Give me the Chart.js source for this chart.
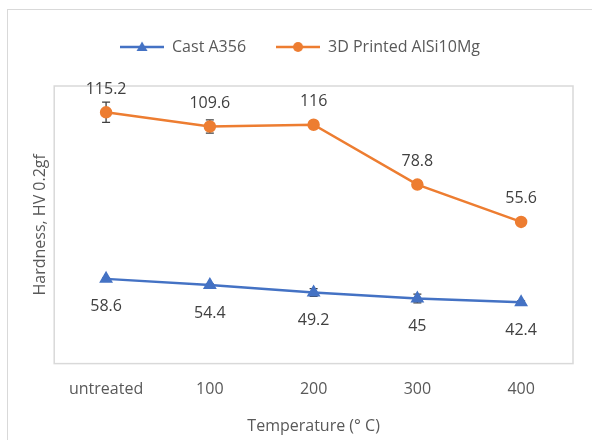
<!DOCTYPE html>
<html>
<head>
<meta charset="utf-8">
<script src="https://cdn.jsdelivr.net/npm/chart.js@4/dist/chart.umd.min.js"></script>
<style>
  html, body { margin: 0; padding: 0; background: #fff; }
  #frame { position: absolute; left: 7px; top: 9px; width: 620px; height: 460px; border: 1px solid #d9d9d9; }
  #wrap { position: absolute; left: 0; top: 0; width: 592px; height: 440px; }
</style>
</head>
<body>
<div id="frame"></div>
<div id="wrap"><canvas id="chart" width="592" height="440"></canvas></div>
<script>
// chart data
const categories = ['untreated', '100', '200', '300', '400'];
const castA356 = [58.6, 54.4, 49.2, 45, 42.4];
const printedAlSi10Mg = [115.2, 109.6, 116, 78.8, 55.6];
const castErr = [0.5, 0.8, 2.7, 3, 1];
const printedErr = [7, 4.6, 0.8, 2.5, 0.5];

const BLUE = '#4472C4';
const ORANGE = '#ED7D31';
const FONT = "'Open Sans', 'Liberation Sans', sans-serif";
const FSIZE = 16;

// little line+marker icons for the legend
function legendIcon(color, shape) {
  const c = document.createElement('canvas');
  c.width = 44; c.height = 14;
  const g = c.getContext('2d');
  g.strokeStyle = color;
  g.lineWidth = 2.5;
  g.beginPath(); g.moveTo(0, 7); g.lineTo(44, 7); g.stroke();
  g.fillStyle = color;
  g.beginPath();
  if (shape === 'triangle') {
    g.moveTo(22, 1.5); g.lineTo(27.5, 11); g.lineTo(16.5, 11); g.closePath();
  } else {
    g.arc(22, 7, 5, 0, Math.PI * 2);
  }
  g.fill();
  return c;
}
const icons = [legendIcon(BLUE, 'triangle'), legendIcon(ORANGE, 'circle')];
const errors = [castErr, printedErr];

// extra gap under the legend
const legendGap = {
  id: 'legendGap',
  beforeInit(chart) {
    const fit = chart.legend.fit;
    chart.legend.fit = function () {
      fit.call(this);
      this.height += 21;
    };
  }
};

// box around the plot area
const plotBox = {
  id: 'plotBox',
  beforeDraw(chart) {
    const { ctx, chartArea: a } = chart;
    ctx.save();
    ctx.strokeStyle = '#d9d9d9';
    ctx.lineWidth = 1.5;
    ctx.strokeRect(a.left, a.top, a.right - a.left, a.bottom - a.top);
    ctx.restore();
  }
};

// error bars at stacked positions
const errorBars = {
  id: 'errorBars',
  beforeDatasetsDraw(chart) {
    const { ctx } = chart;
    const y = chart.scales.y;
    ctx.save();
    ctx.strokeStyle = '#404040';
    ctx.lineWidth = 1.3;
    chart.data.datasets.forEach((ds, i) => {
      const meta = chart.getDatasetMeta(i);
      meta.data.forEach((pt, j) => {
        const e = errors[i][j];
        if (!e) return;
        const v = y.getValueForPixel(pt.y);
        const top = y.getPixelForValue(v + e);
        const bot = y.getPixelForValue(v - e);
        ctx.beginPath();
        ctx.moveTo(pt.x, top); ctx.lineTo(pt.x, bot);
        ctx.moveTo(pt.x - 4, top); ctx.lineTo(pt.x + 4, top);
        ctx.moveTo(pt.x - 4, bot); ctx.lineTo(pt.x + 4, bot);
        ctx.stroke();
      });
    });
    ctx.restore();
  }
};

// value labels: orange above, blue below
const valueLabels = {
  id: 'valueLabels',
  afterDatasetsDraw(chart) {
    const { ctx } = chart;
    ctx.save();
    ctx.font = FSIZE + 'px ' + FONT;
    ctx.fillStyle = '#404040';
    ctx.textAlign = 'center';
    ctx.textBaseline = 'middle';
    chart.data.datasets.forEach((ds, i) => {
      const meta = chart.getDatasetMeta(i);
      meta.data.forEach((pt, j) => {
        const off = i === 0 ? 28 : -23;
        ctx.fillText(String(ds.data[j]), pt.x, pt.y + off);
      });
    });
    ctx.restore();
  }
};

new Chart(document.getElementById('chart'), {
  type: 'line',
  data: {
    labels: categories,
    datasets: [
      {
        label: 'Cast A356',
        data: castA356,
        borderColor: BLUE,
        backgroundColor: BLUE,
        borderWidth: 2.5,
        pointStyle: 'triangle',
        pointRadius: 5.5,
        tension: 0
      },
      {
        label: '3D Printed AlSi10Mg',
        data: printedAlSi10Mg,
        borderColor: ORANGE,
        backgroundColor: ORANGE,
        borderWidth: 2.5,
        pointStyle: 'circle',
        pointRadius: 5,
        tension: 0
      }
    ]
  },
  options: {
    responsive: false,
    animation: false,
    layout: { padding: { left: 27, right: 19, top: 9, bottom: 0 } },
    plugins: {
      tooltip: { enabled: false },
      legend: {
        position: 'top',
        labels: {
          usePointStyle: true,
          pointStyleWidth: 44,
          padding: 30,
          color: '#595959',
          font: { family: FONT, size: FSIZE },
          generateLabels(chart) {
            const items = Chart.defaults.plugins.legend.labels.generateLabels(chart);
            items.forEach((it, i) => { it.pointStyle = icons[i]; });
            return items;
          }
        }
      }
    },
    scales: {
      x: {
        offset: true,
        grid: { display: false, drawTicks: false },
        border: { display: false },
        ticks: { color: '#595959', font: { family: FONT, size: FSIZE }, padding: 16 },
        title: {
          display: true,
          text: 'Temperature (° C)',
          color: '#595959',
          font: { family: FONT, size: FSIZE },
          padding: { top: 2, bottom: 4 }
        }
      },
      y: {
        stacked: true,
        min: 0,
        max: 192,
        grid: { display: false, drawTicks: false },
        border: { display: false },
        ticks: { display: false },
        title: {
          display: true,
          text: 'Hardness, HV 0.2gf',
          color: '#595959',
          font: { family: FONT, size: FSIZE },
          padding: { top: 4, bottom: 4 }
        }
      }
    }
  },
  plugins: [legendGap, plotBox, errorBars, valueLabels]
});
</script>
</body>
</html>
